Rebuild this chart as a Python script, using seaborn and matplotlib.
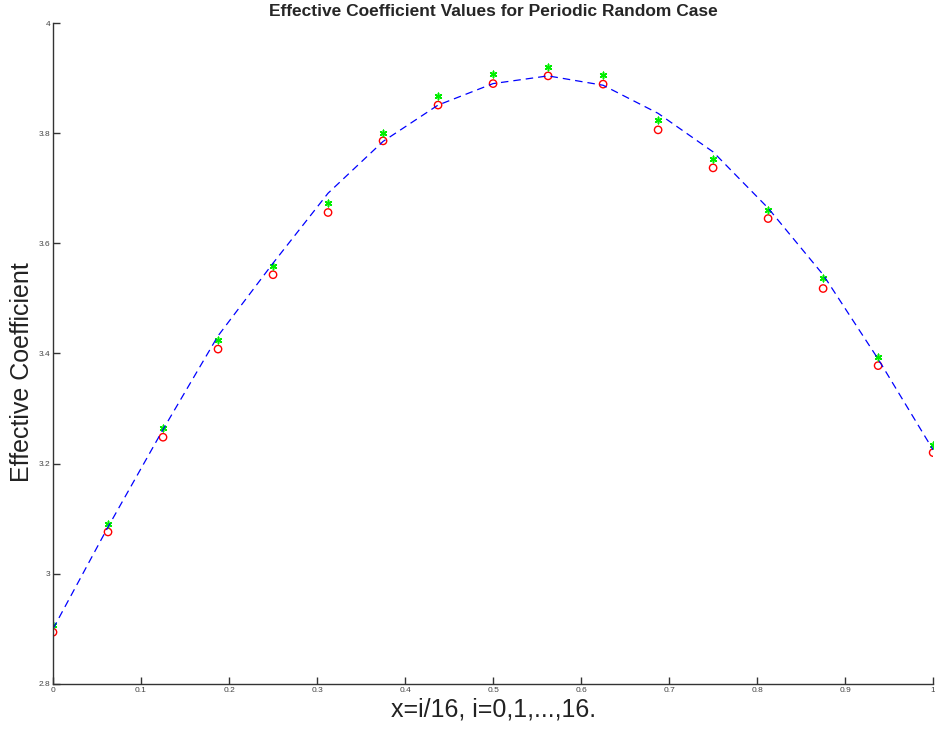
import numpy as np
import pandas as pd
import matplotlib
matplotlib.use("Agg")
import matplotlib.pyplot as plt
import seaborn as sns

# Data, x = i/16
i_vals = list(range(17))
exact_vals = [2.894, 3.076, 3.248, 3.408, 3.543, 3.656, 3.786, 3.851, 3.890,
              3.904, 3.889, 3.806, 3.737, 3.645, 3.518, 3.378, 3.220]
approx_vals = [2.907, 3.090, 3.265, 3.425, 3.559, 3.673, 3.801, 3.868, 3.908,
               3.920, 3.905, 3.824, 3.754, 3.660, 3.537, 3.394, 3.233]
fit_vals = [2.900, 3.085, 3.262, 3.432, 3.564, 3.691, 3.785, 3.851, 3.890,
            3.904, 3.887, 3.836, 3.766, 3.664, 3.543, 3.390, 3.225]

x_vals = np.array(i_vals) / 16.0
df = pd.DataFrame({"x": x_vals, "exact": exact_vals,
                   "approx": approx_vals, "fit": fit_vals})

sns.set_style("ticks")
plt.rcParams['font.family'] = ['Liberation Sans', 'DejaVu Sans']

fig = plt.figure(figsize=(9.35, 7.35), dpi=100)
ax = fig.add_axes([0.0567, 0.0694, 0.9413, 0.8993])

sns.lineplot(data=df, x="x", y="fit", ax=ax, color="blue", linewidth=0.9,
             linestyle=(0, (6, 4)), sort=True)
sns.scatterplot(data=df, x="x", y="exact", ax=ax, marker="o", s=28,
                facecolor="none", edgecolor="red", linewidth=1.0)
sns.scatterplot(data=df, x="x", y="approx", ax=ax, marker=(6, 2, 0), s=22,
                color="#00ee00", edgecolor="#00ee00", linewidth=1.1)

ax.set_xlim(0, 1)
ax.set_ylim(2.8, 4)
ax.set_xticks(np.arange(0, 1.01, 0.1))
ax.set_xticklabels(["0", "0.1", "0.2", "0.3", "0.4", "0.5", "0.6", "0.7", "0.8", "0.9", "1"])
ax.set_yticks([2.8, 3.0, 3.2, 3.4, 3.6, 3.8, 4.0])
ax.set_yticklabels(["2.8", "3", "3.2", "3.4", "3.6", "3.8", "4"])
ax.tick_params(direction="in", length=5, width=1, labelsize=6,
               labelcolor="#444444", color="#333333", pad=2)

for side in ["top", "right"]:
    ax.spines[side].set_visible(False)
for side in ["left", "bottom"]:
    ax.spines[side].set_color("#333333")
    ax.spines[side].set_linewidth(1.0)

ax.set_xlabel("x=i/16, i=0,1,...,16.", fontsize=18, color="#222222", labelpad=3)
ax.set_ylabel("Effective Coefficient", fontsize=18, color="#222222")
ax.yaxis.set_label_coords(-0.022, 0.472)
ax.set_title("Effective Coefficient Values for Periodic Random Case",
             fontsize=12.5, fontweight="bold", pad=5)

fig.savefig("out.png", dpi=100)
